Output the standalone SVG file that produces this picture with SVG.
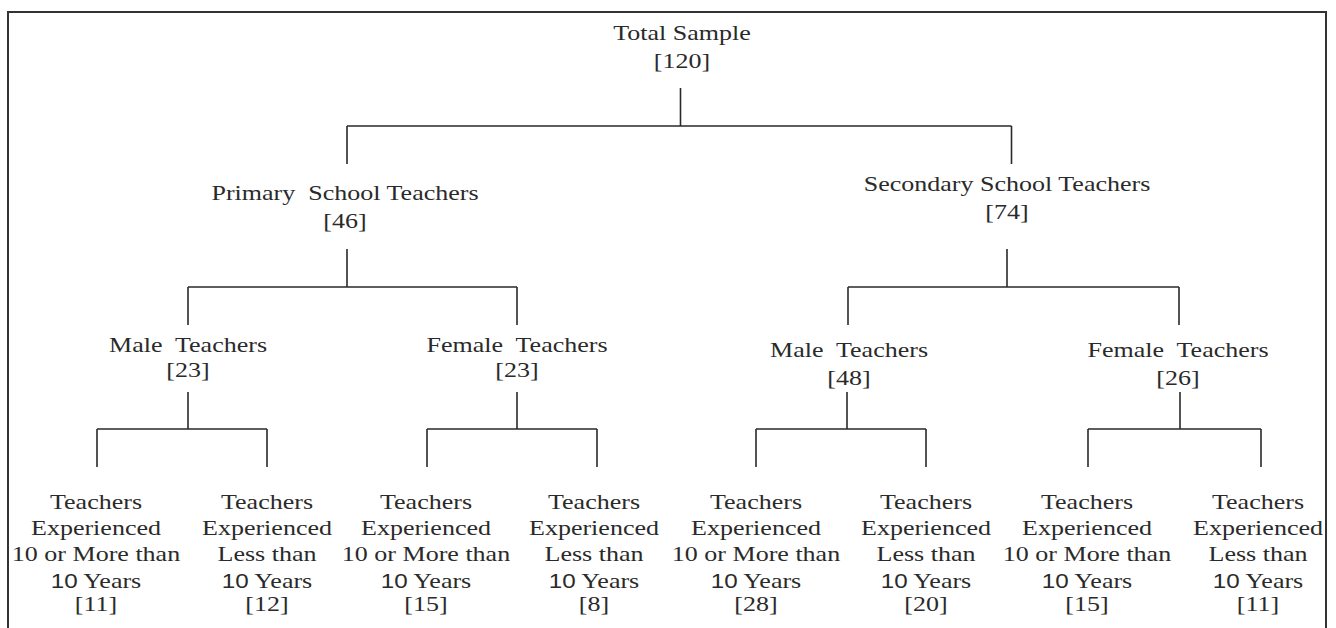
<svg xmlns="http://www.w3.org/2000/svg" width="1336" height="628" viewBox="0 0 1336 628">
<style>
.t{font-family:"Liberation Serif","Times New Roman",serif;font-size:21.5px;fill:#2a2a2a;text-anchor:middle}
.s{font-family:"Liberation Sans",Arial,sans-serif;font-size:20px}
.c{stroke:#2a2a2a;stroke-width:1.6;fill:none}
</style>
<rect x="0" y="0" width="1336" height="628" fill="#ffffff"/>
<path d="M8 628 V12 H1326 V628" stroke="#333333" stroke-width="2" fill="none"/>
<g id="connectors" class="c">
<path d="M680.5 88 V126 M347 126 H1011.5 M347 126 V164 M1011.5 126 V164"/>
<path d="M347 249 V287 M188 287 H517 M188 287 V325 M517 287 V325"/>
<path d="M1007 249 V287 M848 287 H1179 M848 287 V325 M1179 287 V325"/>
<path d="M188 392 V429 M97 429 H267 M97 429 V467 M267 429 V467"/>
<path d="M517 392 V429 M427 429 H597 M427 429 V467 M597 429 V467"/>
<path d="M847 392 V429 M756 429 H926 M756 429 V467 M926 429 V467"/>
<path d="M1180 392 V429 M1088 429 H1261 M1088 429 V467 M1261 429 V467"/>
</g>
<g id="root" transform="translate(682 0)">
<text class="t" transform="scale(1.21 1)"><tspan x="0" y="40">Total Sample</tspan><tspan x="0" y="68">[120]</tspan></text>
</g>
<g id="primary" transform="translate(345 0)">
<text class="t" transform="scale(1.21 1)"><tspan x="0" y="200.5">Primary&#160; School Teachers</tspan><tspan x="0" y="228">[46]</tspan></text>
</g>
<g id="secondary" transform="translate(1007 0)">
<text class="t" transform="scale(1.21 1)"><tspan x="0" y="191">Secondary School Teachers</tspan><tspan x="0" y="219">[74]</tspan></text>
</g>
<g id="p-male" transform="translate(188 0)">
<text class="t" transform="scale(1.21 1)"><tspan x="0" y="352">Male&#160; Teachers</tspan><tspan x="0" y="377">[23]</tspan></text>
</g>
<g id="p-female" transform="translate(517 0)">
<text class="t" transform="scale(1.21 1)"><tspan x="0" y="352">Female&#160; Teachers</tspan><tspan x="0" y="377">[23]</tspan></text>
</g>
<g id="s-male" transform="translate(849 0)">
<text class="t" transform="scale(1.21 1)"><tspan x="0" y="357">Male&#160; Teachers</tspan><tspan x="0" y="385">[48]</tspan></text>
</g>
<g id="s-female" transform="translate(1178 0)">
<text class="t" transform="scale(1.21 1)"><tspan x="0" y="357">Female&#160; Teachers</tspan><tspan x="0" y="385">[26]</tspan></text>
</g>
<g id="pm-more" transform="translate(96 0)">
<text class="t" transform="scale(1.21 1)"><tspan x="0" y="509">Teachers</tspan><tspan x="0" y="535">Experienced</tspan><tspan x="0" y="561.5">10 or More than</tspan><tspan x="0" y="588"><tspan class="s">10</tspan> Years</tspan><tspan x="0" y="611">[11]</tspan></text>
</g>
<g id="pm-less" transform="translate(267 0)">
<text class="t" transform="scale(1.21 1)"><tspan x="0" y="509">Teachers</tspan><tspan x="0" y="535">Experienced</tspan><tspan x="0" y="561.5">Less than</tspan><tspan x="0" y="588"><tspan class="s">10</tspan> Years</tspan><tspan x="0" y="611">[12]</tspan></text>
</g>
<g id="pf-more" transform="translate(426 0)">
<text class="t" transform="scale(1.21 1)"><tspan x="0" y="509">Teachers</tspan><tspan x="0" y="535">Experienced</tspan><tspan x="0" y="561.5">10 or More than</tspan><tspan x="0" y="588"><tspan class="s">10</tspan> Years</tspan><tspan x="0" y="611">[15]</tspan></text>
</g>
<g id="pf-less" transform="translate(594 0)">
<text class="t" transform="scale(1.21 1)"><tspan x="0" y="509">Teachers</tspan><tspan x="0" y="535">Experienced</tspan><tspan x="0" y="561.5">Less than</tspan><tspan x="0" y="588"><tspan class="s">10</tspan> Years</tspan><tspan x="0" y="611">[8]</tspan></text>
</g>
<g id="sm-more" transform="translate(756 0)">
<text class="t" transform="scale(1.21 1)"><tspan x="0" y="509">Teachers</tspan><tspan x="0" y="535">Experienced</tspan><tspan x="0" y="561.5">10 or More than</tspan><tspan x="0" y="588"><tspan class="s">10</tspan> Years</tspan><tspan x="0" y="611">[28]</tspan></text>
</g>
<g id="sm-less" transform="translate(926 0)">
<text class="t" transform="scale(1.21 1)"><tspan x="0" y="509">Teachers</tspan><tspan x="0" y="535">Experienced</tspan><tspan x="0" y="561.5">Less than</tspan><tspan x="0" y="588"><tspan class="s">10</tspan> Years</tspan><tspan x="0" y="611">[20]</tspan></text>
</g>
<g id="sf-more" transform="translate(1087 0)">
<text class="t" transform="scale(1.21 1)"><tspan x="0" y="509">Teachers</tspan><tspan x="0" y="535">Experienced</tspan><tspan x="0" y="561.5">10 or More than</tspan><tspan x="0" y="588"><tspan class="s">10</tspan> Years</tspan><tspan x="0" y="611">[15]</tspan></text>
</g>
<g id="sf-less" transform="translate(1258 0)">
<text class="t" transform="scale(1.21 1)"><tspan x="0" y="509">Teachers</tspan><tspan x="0" y="535">Experienced</tspan><tspan x="0" y="561.5">Less than</tspan><tspan x="0" y="588"><tspan class="s">10</tspan> Years</tspan><tspan x="0" y="611">[11]</tspan></text>
</g>
</svg>
